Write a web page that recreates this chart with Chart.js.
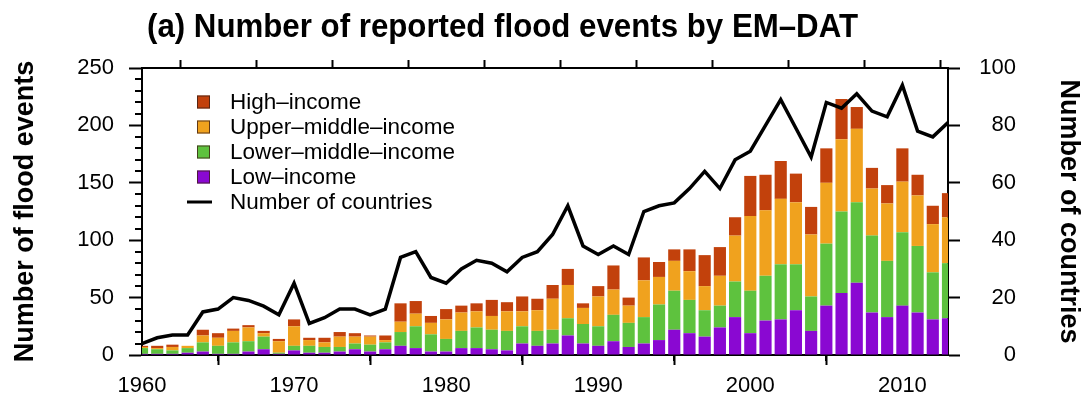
<!DOCTYPE html>
<html>
<head>
<meta charset="utf-8">
<script src="https://cdn.jsdelivr.net/npm/chart.js@4.4.1/dist/chart.umd.min.js"></script>
<style>
  html, body { margin: 0; padding: 0; background: #fff; }
  #wrap { width: 1087px; height: 401px; position: relative; }
</style>
</head>
<body>
<div id="wrap"><canvas id="floodChart"></canvas></div>
<script>
const titleText = '(a) Number of reported flood events by EM\u2013DAT';

const years = [1960, 1961, 1962, 1963, 1964, 1965, 1966, 1967, 1968, 1969,
  1970, 1971, 1972, 1973, 1974, 1975, 1976, 1977, 1978, 1979,
  1980, 1981, 1982, 1983, 1984, 1985, 1986, 1987, 1988, 1989,
  1990, 1991, 1992, 1993, 1994, 1995, 1996, 1997, 1998, 1999,
  2000, 2001, 2002, 2003, 2004, 2005, 2006, 2007, 2008, 2009,
  2010, 2011, 2012, 2013];

// flood events per income group (stacked bottom -> top)
const lowIncome = [1, 1, 1, 2, 3, 1, 1, 3, 5, 1,
  4, 2, 2, 3, 5, 3, 5, 8, 6, 3,
  3, 6, 6, 5, 4, 10, 8, 10, 17, 10,
  8, 12, 7, 10, 13, 22, 19, 16, 24, 33,
  19, 30, 31, 39, 21, 43, 54, 63, 37, 33,
  43, 37, 31, 32];
const lowerMiddle = [5, 4, 3, 4, 8, 7, 10, 9, 11, 1,
  4, 6, 5, 4, 5, 6, 6, 12, 19, 15,
  11, 15, 18, 17, 17, 15, 13, 12, 15, 17,
  17, 23, 21, 23, 31, 34, 29, 23, 19, 31,
  37, 39, 48, 40, 30, 54, 71, 70, 67, 49,
  64, 58, 41, 48];
const upperMiddle = [1, 1, 3, 2, 6, 7, 10, 12, 3, 10,
  17, 5, 4, 9, 6, 7, 2, 9, 11, 10,
  17, 16, 14, 12, 17, 13, 18, 27, 29, 14,
  26, 22, 15, 32, 24, 26, 25, 21, 26, 40,
  65, 57, 57, 54, 54, 53, 63, 64, 41, 50,
  44, 44, 42, 40];
const highIncome = [1, 2, 2, 0, 5, 4, 2, 2, 2, 2,
  6, 2, 4, 4, 3, 1, 4, 16, 11, 6,
  9, 6, 7, 14, 8, 13, 10, 12, 14, 4,
  9, 21, 7, 20, 13, 10, 19, 27, 25, 16,
  35, 31, 33, 25, 24, 30, 35, 19, 18, 16,
  29, 18, 16, 21];

// number of countries reporting floods (right axis)
const countries = [4, 6, 7, 7, 15, 16, 20, 19, 17, 14,
  25, 11, 13, 16, 16, 14, 16, 34, 36, 27,
  25, 30, 33, 32, 29, 34, 36, 42, 52, 38,
  35, 38, 35, 50, 52, 53, 58, 64, 58, 68,
  71, 80, 89, 79, 69, 88, 86, 91, 85, 83,
  94, 78, 76, 81];

const colHigh = '#c2410c';
const colUpper = '#f0a21e';
const colLower = '#5ec23e';
const colLow = '#8a08d2';

const fontFamily = '"Liberation Sans", Arial, Helvetica, sans-serif';
Chart.defaults.font.family = fontFamily;
Chart.defaults.color = '#000';

// title drawn above the frame, squeezed like the condensed original
const titlePlugin = {
  id: 'plotTitle',
  afterDraw(chart) {
    const ctx = chart.ctx;
    ctx.save();
    ctx.font = 'bold 34px "Liberation Sans Narrow", ' + fontFamily;
    const w = ctx.measureText(titleText).width;
    ctx.translate(147, 37);
    ctx.scale(711 / w, 1);
    ctx.fillStyle = '#000';
    ctx.textBaseline = 'alphabetic';
    ctx.fillText(titleText, 0, 0);
    ctx.restore();
  }
};

// minor tick marks (left axis every 10, bottom axis every 5 years)
// and right-justified labels of the right axis
const axisExtras = {
  id: 'axisExtras',
  afterDraw(chart) {
    const { ctx, chartArea: a } = chart;
    const x = chart.scales.x, y = chart.scales.y, y1 = chart.scales.y1;
    ctx.save();
    ctx.strokeStyle = '#000';
    ctx.lineWidth = 2;
    ctx.beginPath();
    for (let v = 10; v < 250; v += 10) {
      if (v % 50 === 0) continue;
      const py = Math.round(y.getPixelForValue(v));
      ctx.moveTo(a.left - 7, py);
      ctx.lineTo(a.left, py);
    }
    for (let yr = 1965; yr < 2013; yr += 10) {
      const px = Math.round(x.getPixelForValue(yr));
      ctx.moveTo(px, a.bottom);
      ctx.lineTo(px, a.bottom + 6);
    }
    ctx.stroke();

    ctx.font = '22px ' + fontFamily;
    ctx.fillStyle = '#000';
    ctx.textAlign = 'right';
    ctx.textBaseline = 'middle';
    y1.ticks.forEach(t => {
      if (t.value % 20 !== 0) return;
      ctx.fillText(String(t.value), a.right + 68, y1.getPixelForValue(t.value));
    });
    ctx.restore();
  }
};

// legend inside the plot, upper left
const insideLegend = {
  id: 'insideLegend',
  afterDatasetsDraw(chart) {
    const { ctx, chartArea: a } = chart;
    const ds = chart.data.datasets;
    const items = [ds[4], ds[3], ds[2], ds[1], ds[0]];
    ctx.save();
    ctx.font = '22.5px ' + fontFamily;
    ctx.textBaseline = 'middle';
    items.forEach((d, i) => {
      const cy = a.top + 34 + i * 25;
      if (d.type === 'line') {
        ctx.strokeStyle = '#000';
        ctx.lineWidth = 3;
        ctx.beginPath();
        ctx.moveTo(a.left + 45, cy);
        ctx.lineTo(a.left + 70, cy);
        ctx.stroke();
      } else {
        ctx.fillStyle = d.backgroundColor;
        ctx.fillRect(a.left + 55, cy - 6.5, 13, 13);
        ctx.strokeStyle = 'rgba(60,30,20,0.8)';
        ctx.lineWidth = 1;
        ctx.strokeRect(a.left + 55.5, cy - 6, 12, 12);
      }
      ctx.fillStyle = '#000';
      ctx.fillText(d.label, a.left + 88, cy + 1);
    });
    ctx.restore();
  }
};

const tickFont = { size: 22, family: fontFamily };
const axisTitleFont = { size: 27, weight: 'bold', family: fontFamily };

function barSet(label, data, color) {
  return {
    label: label,
    data: data,
    backgroundColor: color,
    borderWidth: 0,
    barPercentage: 0.8,
    categoryPercentage: 1,
    clip: 0,
    xAxisID: 'x',
    yAxisID: 'y'
  };
}

const ctx = document.getElementById('floodChart').getContext('2d');
new Chart(ctx, {
  type: 'bar',
  data: {
    labels: years,
    datasets: [
      {
        type: 'line',
        label: 'Number of countries',
        data: countries,
        borderColor: '#000',
        borderWidth: 3.5,
        pointRadius: 0,
        tension: 0,
        fill: false,
        order: -1,
        xAxisID: 'x',
        yAxisID: 'y1'
      },
      barSet('Low\u2013income', lowIncome, colLow),
      barSet('Lower\u2013middle\u2013income', lowerMiddle, colLower),
      barSet('Upper\u2013middle\u2013income', upperMiddle, colUpper),
      barSet('High\u2013income', highIncome, colHigh)
    ]
  },
  options: {
    responsive: true,
    maintainAspectRatio: false,
    animation: false,
    layout: { padding: 0 },
    plugins: {
      legend: { display: false },
      tooltip: { enabled: false },
      title: { display: false }
    },
    scales: {
      x: {
        type: 'linear',
        position: 'bottom',
        min: 1960,
        max: 2013,
        offset: false,
        stacked: true,
        grid: { drawOnChartArea: false, tickLength: 10, tickWidth: 2, tickColor: '#000' },
        border: { display: true, color: '#000', width: 2 },
        ticks: {
          stepSize: 10, includeBounds: false, padding: 8, autoSkip: false, maxRotation: 0,
          font: tickFont, color: '#000',
          callback: v => String(v)
        },
        afterFit: s => { s.height = 46; }
      },
      xTop: {
        type: 'linear',
        position: 'top',
        display: true,
        min: 1960,
        max: 2013,
        offset: false,
        grid: { drawOnChartArea: false, tickLength: 8, tickWidth: 2, tickColor: '#000' },
        border: { display: true, color: '#000', width: 2 },
        ticks: { display: false, stepSize: 5, includeBounds: false },
        afterFit: s => { s.height = 68; }
      },
      y: {
        position: 'left',
        min: 0,
        max: 250,
        stacked: true,
        grid: { drawOnChartArea: false, tickLength: 13, tickWidth: 2, tickColor: '#000' },
        border: { display: true, color: '#000', width: 2 },
        ticks: { stepSize: 50, includeBounds: false, padding: 15, font: tickFont, color: '#000' },
        title: {
          display: true, text: 'Number of flood events', font: axisTitleFont, color: '#000',
          padding: { top: 9, bottom: 0 }
        },
        afterFit: s => { s.width = 142; }
      },
      y1: {
        position: 'right',
        min: 0,
        max: 100,
        stacked: false,
        grid: { drawOnChartArea: false, tickLength: 12, tickWidth: 2, tickColor: '#000' },
        border: { display: true, color: '#000', width: 2 },
        // labels are drawn right-justified by axisExtras
        ticks: { stepSize: 10, includeBounds: false, font: tickFont, callback: () => '' },
        title: {
          display: true, text: 'Number of countries', font: axisTitleFont, color: '#000',
          padding: { top: 2, bottom: 0 }
        },
        afterFit: s => { s.width = 139; }
      }
    }
  },
  plugins: [titlePlugin, axisExtras, insideLegend]
});
</script>
</body>
</html>
